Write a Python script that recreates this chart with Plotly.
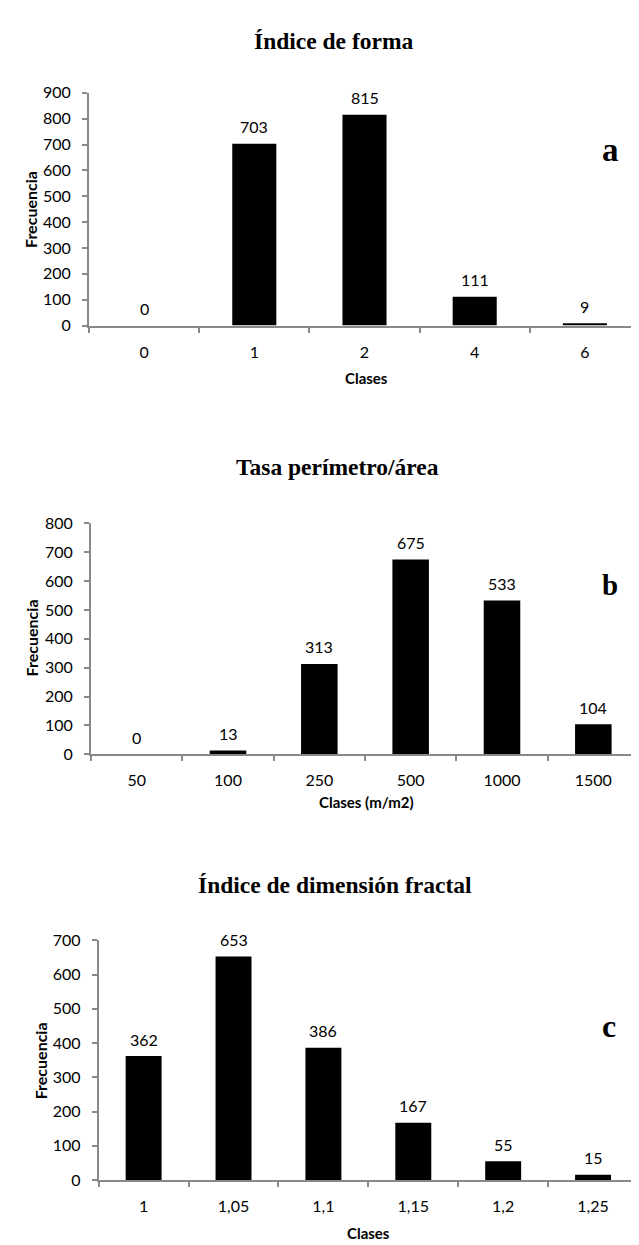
import plotly.graph_objects as go

# ---------------- data ----------------
cat_a = ["0", "1", "2", "4", "6"]
val_a = [0, 703, 815, 111, 9]

cat_b = ["50", "100", "250", "500", "1000", "1500"]
val_b = [0, 13, 313, 675, 533, 104]

cat_c = ["1", "1,05", "1,1", "1,15", "1,2", "1,25"]
val_c = [362, 653, 386, 167, 55, 15]

titles = ["Índice de forma", "Tasa perímetro/área", "Índice de dimensión fractal"]
xtitles = ["Clases", "Clases (m/m2)", "Clases"]
ytitle = "Frecuencia"
letters = ["a", "b", "c"]
yranges = [900, 800, 700]
ydticks = [100, 100, 100]

W, H = 639, 1245

def px_x(p):
    return p / W

def px_y(p):
    return 1 - p / H

AX = "#898989"
SANS = "Lato"
SERIF = "Liberation Serif"

# pixel geometry of each panel: (left, right, top, bottom)
panels = [
    (81, 632, 76, 312.3),
    (83, 631, 513.3, 747.7),
    (90.7, 630, 936.7, 1180),
]
title_pos = [(326, 23.5), (329, 455.5), (327, 880.5)]
xtitle_pos = [(358, 366), (358, 796), (360, 1234)]
ytitle_pos = [(22, 195), (23, 630), (32.5, 1059)]
letter_pos = [(602, 134, 33), (602, 575.5, 29), (601, 1024, 32)]

fig = go.Figure()
cats = [cat_a, cat_b, cat_c]
vals = [val_a, val_b, val_c]
annotations = []
layout = {}

for i in range(3):
    n = "" if i == 0 else str(i + 1)
    xa = "x" + n
    ya = "y" + n
    fig.add_trace(go.Bar(x=cats[i], y=vals[i], marker=dict(color="#000000", line=dict(width=0)),
                         xaxis=xa, yaxis=ya, hoverinfo="x+y"))
    L, R, T, B = panels[i]
    layout["xaxis" + n] = dict(
        domain=[px_x(L), px_x(R)], anchor=ya, type="category",
        categoryorder="array", categoryarray=cats[i],
        range=[-0.5, len(cats[i]) - 0.5],
        showline=True, linecolor=AX, linewidth=2,
        ticks="outside", ticklen=5, tickwidth=2, tickcolor=AX, tickson="boundaries",
        showgrid=False, zeroline=False,
        tickfont=dict(family=SANS, size=16, color="#000000"),
        ticklabelstandoff=11,
        fixedrange=True,
    )
    layout["yaxis" + n] = dict(
        domain=[px_y(B), px_y(T)], anchor=xa, range=[0, yranges[i]],
        dtick=ydticks[i], tick0=0,
        showline=True, linecolor=AX, linewidth=2,
        ticks="outside", ticklen=5, tickwidth=2, tickcolor=AX,
        showgrid=False, zeroline=False,
        tickfont=dict(family=SANS, size=16, color="#000000"),
        ticklabelstandoff=8,
        fixedrange=True,
    )
    # value labels (x given as category index on the category axis)
    for j, v in enumerate(vals[i]):
        annotations.append(dict(x=j, y=v, xref=xa, yref=ya, text=str(v), showarrow=False,
                                yanchor="middle", xanchor="center", yshift=17,
                                font=dict(family=SANS, size=16, color="#000000")))
    # panel title
    tx, ty = title_pos[i]
    annotations.append(dict(x=px_x(tx), y=px_y(ty), xref="paper", yref="paper", text="<b>%s</b>" % titles[i],
                            showarrow=False, xanchor="center", yanchor="middle",
                            font=dict(family=SERIF, size=23.5, color="#000000")))
    # x title
    xx, xy = xtitle_pos[i]
    annotations.append(dict(x=px_x(xx), y=px_y(xy), xref="paper", yref="paper", text="<b>%s</b>" % xtitles[i],
                            showarrow=False, xanchor="center", yanchor="middle",
                            font=dict(family=SANS, size=15, color="#000000")))
    # y title
    yx, yy = ytitle_pos[i]
    annotations.append(dict(x=px_x(yx), y=px_y(yy), xref="paper", yref="paper", text="<b>%s</b>" % ytitle,
                            showarrow=False, xanchor="center", yanchor="middle", textangle=-90,
                            font=dict(family=SANS, size=16, color="#000000")))
    # letter
    lx, ly, ls = letter_pos[i]
    annotations.append(dict(x=px_x(lx), y=px_y(ly), xref="paper", yref="paper", text="<b>%s</b>" % letters[i],
                            showarrow=False, xanchor="center", yanchor="middle",
                            font=dict(family=SERIF, size=ls, color="#000000")))

fig.update_layout(
    width=W, height=H,
    margin=dict(l=0, r=0, t=0, b=0),
    paper_bgcolor="#ffffff", plot_bgcolor="#ffffff",
    showlegend=False, bargap=0.6,
    annotations=annotations,
    **layout,
)

fig.write_html("out.html")
